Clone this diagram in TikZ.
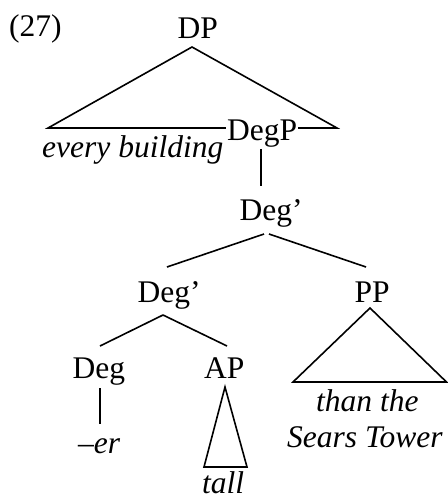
\documentclass[tikz,border=0pt]{standalone}
\usepackage{fontspec}
\setmainfont{Liberation Serif}
\begin{document}
\begin{tikzpicture}[x=1pt,y=-1pt,
  lbl/.style={font=\fontsize{31.5}{36}\selectfont, inner sep=0pt, anchor=base west},
  leaf/.style={lbl, font=\fontsize{31.5}{36}\selectfont\itshape},
  branch/.style={line width=1.6pt, line join=miter}]
\useasboundingbox (0,0) rectangle (448,499);

% example number
\node[lbl] (ex) at (9,36) {(27)};

% attachment points of the branches
\coordinate (dp-top)    at (192,47);
\coordinate (dp-left)   at (48,128);
\coordinate (dp-right)  at (337,128);
\coordinate (degp-bot)  at (261,149);
\coordinate (dga-top)   at (261,186);
\coordinate (dga-botl)  at (264,234);
\coordinate (dga-botr)  at (269,234);
\coordinate (dgb-top)   at (167,267);
\coordinate (pp-top)    at (366,267);
\coordinate (dgb-bot)   at (163,315);
\coordinate (deg-top)   at (100,346);
\coordinate (ap-top)    at (227,346);
\coordinate (pp-apex)   at (370,308);
\coordinate (pp-left)   at (293,382);
\coordinate (pp-right)  at (446.5,382);
\coordinate (deg-bot)   at (100,388);
\coordinate (er-top)    at (100,424);
\coordinate (ap-apex)   at (225,387);
\coordinate (ap-left)   at (204,467);
\coordinate (ap-right)  at (247,467);

% DP with its roof over "every building ... DegP"
\node[lbl] (dp) at (177.5,38) {DP};
\draw[branch] (dp-top) -- (dp-left) -- (dp-right) -- cycle;
\node[lbl, fill=white, inner xsep=1pt] (degp) at (226,140) {DegP};
\node[leaf] (every) at (42,157) {every building};

% DegP -- Deg'
\draw[branch] (degp-bot) -- (dga-top);
\node[lbl] (dga) at (239.5,220) {Deg’};
\draw[branch] (dga-botl) -- (dgb-top);
\draw[branch] (dga-botr) -- (pp-top);

% lower Deg' and PP
\node[lbl] (dgb) at (137.5,302) {Deg’};
\node[lbl] (pp) at (354.5,302) {PP};
\draw[branch] (dgb-bot) -- (deg-top);
\draw[branch] (dgb-bot) -- (ap-top);
\draw[branch] (pp-apex) -- (pp-left) -- (pp-right) -- cycle;
\node[leaf] (than) at (316,411) {than the};
\node[leaf] (sears) at (287,447) {Sears Tower};

% Deg and AP
\node[lbl] (deg) at (72.5,378) {Deg};
\node[lbl] (ap) at (204,378) {AP};
\draw[branch] (deg-bot) -- (er-top);
\node[leaf] (er) at (78,453) {–er};
\draw[branch] (ap-apex) -- (ap-left) -- (ap-right) -- cycle;
\node[leaf] (tall) at (202,493.5) {tall};
\end{tikzpicture}
\end{document}
